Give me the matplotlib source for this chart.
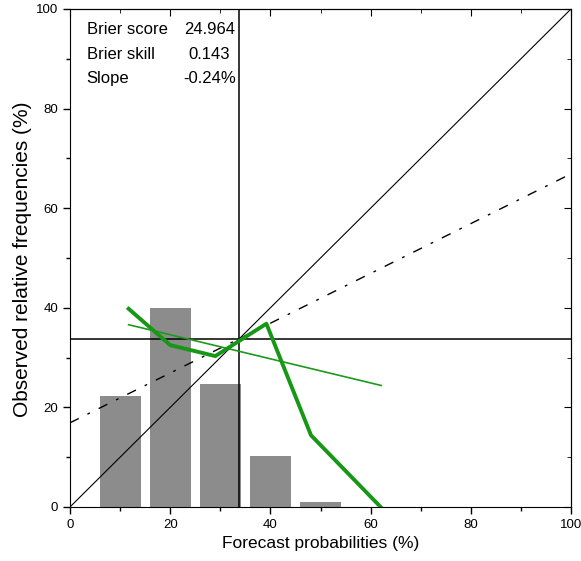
import numpy as np
import matplotlib.pyplot as plt
from matplotlib.ticker import MultipleLocator

plt.rcParams['font.family'] = ['Liberation Sans', 'DejaVu Sans']

# histogram of forecast use
bin_centres = [10, 20, 30, 40, 50]
bin_freq = [22.3, 40.0, 24.6, 10.3, 0.9]

# reliability curve
rel_x = [11.7, 20.0, 29.0, 39.2, 48.1, 62.0]
rel_y = [39.8, 32.5, 30.3, 36.8, 14.4, 0.0]

# weighted regression line
reg_x = [11.7, 62.1]
reg_y = [36.6, 24.4]

clim = 33.8
stat_names = ['Brier score', 'Brier skill', 'Slope']
stat_values = ['24.964', '0.143', '-0.24%']

fig = plt.figure(figsize=(5.81, 5.61), dpi=100)
ax = fig.add_axes([0.1205, 0.0963, 0.8623, 0.8877])

ax.bar(bin_centres, bin_freq, width=8.2, color='#8c8c8c', zorder=1)

ax.plot([0, 100], [0, 100], color='black', lw=0.8, zorder=2)
ax.plot([0, 100], [clim / 2, (100 + clim) / 2], color='black', lw=1.0,
        linestyle=(0, (7, 7, 2, 7)), zorder=2)
ax.axhline(clim, color='black', lw=1.1, zorder=2)
ax.axvline(clim, color='black', lw=1.1, zorder=2)

ax.plot(reg_x, reg_y, color='#1c9a1c', lw=1.2, zorder=3)
ax.plot(rel_x, rel_y, color='#169816', lw=2.8, zorder=4)

ax.set_xlim(0, 100)
ax.set_ylim(0, 100)
ax.xaxis.set_major_locator(MultipleLocator(20))
ax.xaxis.set_minor_locator(MultipleLocator(10))
ax.yaxis.set_major_locator(MultipleLocator(20))
ax.yaxis.set_minor_locator(MultipleLocator(10))
ax.tick_params(which='major', direction='out', length=5, labelsize=9.5, width=1)
ax.tick_params(which='minor', direction='out', length=3, width=1)

top = ax.secondary_xaxis('top')
top.xaxis.set_major_locator(MultipleLocator(20))
top.xaxis.set_minor_locator(MultipleLocator(10))
top.tick_params(which='major', direction='in', length=5, labeltop=False)
top.tick_params(which='minor', direction='in', length=3)
right = ax.secondary_yaxis('right')
right.yaxis.set_major_locator(MultipleLocator(20))
right.yaxis.set_minor_locator(MultipleLocator(10))
right.tick_params(which='major', direction='in', length=5, labelright=False)
right.tick_params(which='minor', direction='in', length=3)

ax.set_xlabel('Forecast probabilities (%)', fontsize=12.5, labelpad=4)
ax.set_ylabel('Observed relative frequencies (%)', fontsize=15, va='center')
ax.yaxis.set_label_coords(-0.094, 0.497)

for i, (name, val) in enumerate(zip(stat_names, stat_values)):
    yy = 95.8 - i * 4.9
    ax.text(3.3, yy, name, fontsize=12, va='center', ha='left')
    ax.text(27.8, yy, val, fontsize=12, va='center', ha='center')

fig.savefig('out.png', dpi=100)
